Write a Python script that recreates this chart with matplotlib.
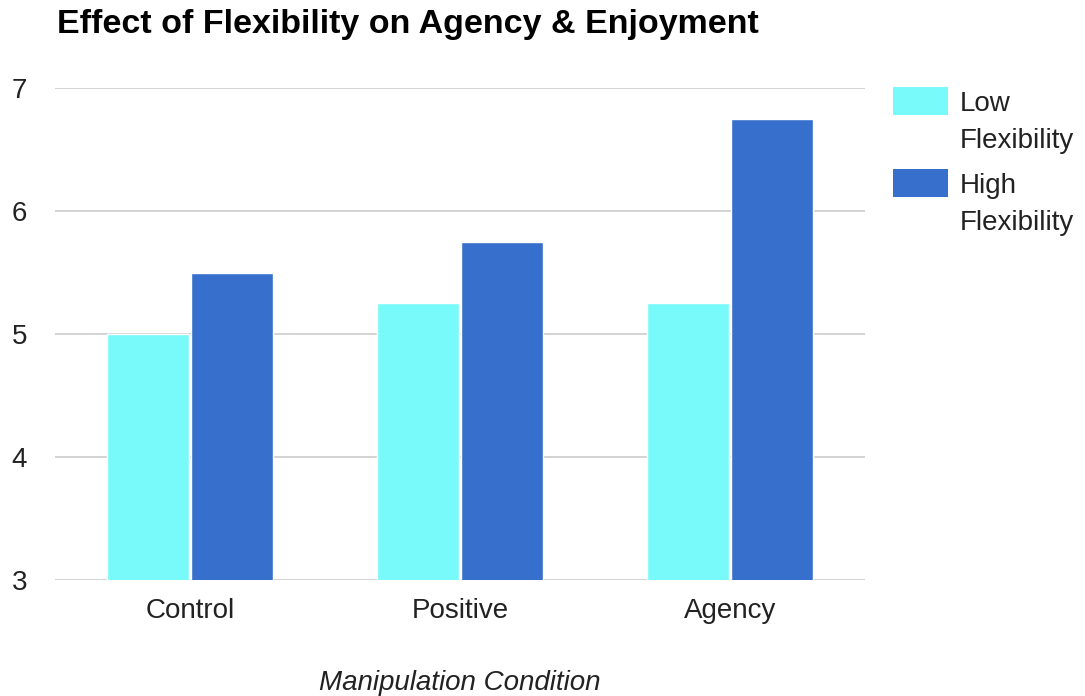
import matplotlib
matplotlib.use("Agg")
import matplotlib.pyplot as plt
import numpy as np
from matplotlib.patches import Rectangle

plt.rcParams['font.family'] = ['Liberation Sans', 'DejaVu Sans']

# data
conditions = ['Control', 'Positive', 'Agency']
low_flex = [5.0, 5.25, 5.25]
high_flex = [5.5, 5.75, 6.75]
series_names = ['Low\nFlexibility', 'High\nFlexibility']
y_ticks = [3, 4, 5, 6, 7]

c_low = '#78FAFA'
c_high = '#3670CC'
txt = '#222222'

fig = plt.figure(figsize=(10.85, 6.96), dpi=100)
ax = fig.add_axes([55/1085, 1-580/696, 810/1085, 492/696])

x = np.arange(len(conditions))
w = 0.305
ax.bar(x - 0.155, low_flex, w, bottom=0, color=c_low, edgecolor='white', linewidth=1, zorder=3)
ax.bar(x + 0.155, high_flex, w, bottom=0, color=c_high, edgecolor='white', linewidth=1, zorder=3)

ax.set_xlim(-0.5, 2.5)
ax.set_ylim(3, 7)
ax.set_yticks(y_ticks)
ax.set_xticks(x)
ax.set_xticklabels(conditions)
ax.grid(axis='y', color='#CCCCCC', linewidth=1.2, zorder=0)
for s in ax.spines.values():
    s.set_visible(False)
ax.tick_params(axis='both', length=0, labelsize=20, colors=txt)
ax.tick_params(axis='y', pad=20)
ax.tick_params(axis='x', pad=13)
ax.set_xlabel('Manipulation Condition', fontsize=20, style='italic', color=txt, labelpad=33)

fig.text(57/1085, 1-25/696, 'Effect of Flexibility on Agency & Enjoyment',
         fontsize=24.5, fontweight='bold', va='center', ha='left')

# legend
colors = [c_low, c_high]
tops = [87, 169]
for name, col, top in zip(series_names, colors, tops):
    fig.patches.append(Rectangle((893/1085, 1-(top+28)/696), 55/1085, 28/696,
                                 transform=fig.transFigure, facecolor=col,
                                 edgecolor='none'))
    fig.text(960/1085, 1-(top+4)/696, name, fontsize=20, va='top', ha='left',
             color=txt, linespacing=1.55)

fig.savefig('out.png', dpi=100)
